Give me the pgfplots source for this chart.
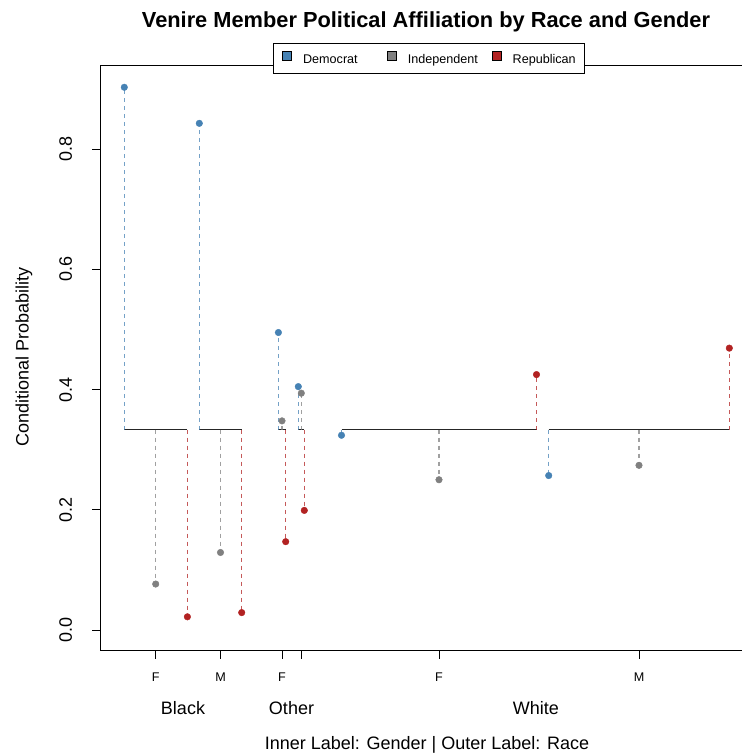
\documentclass[border=0pt]{standalone}
\usepackage{fontspec}
\setmainfont{Liberation Sans}[Ligatures=NoCommon]
\usepackage{pgfplots}
\pgfplotsset{compat=1.18}
\definecolor{dem}{HTML}{4682B4}
\definecolor{ind}{HTML}{808080}
\definecolor{rep}{HTML}{B22222}
\pgfplotsset{
  stem/.style={#1, opacity=0.75, line width=1.2pt, dash pattern=on 4pt off 4pt, forget plot},
}
\begin{document}
\begin{tikzpicture}[x=1pt,y=1pt]
\useasboundingbox (0,0) rectangle (742,753);
\begin{axis}[
  at={(100pt,102pt)}, anchor=south west,
  scale only axis, width=642pt, height=585pt,
  xmin=100, xmax=742, ymin=-0.0349, ymax=0.9384,
  axis x line*=bottom, axis y line*=left,
  axis line style={black, line width=1pt},
  clip=false,
  tick align=outside, major tick length=8pt,
  tick style={black, line width=0.9pt},
  xtick={155.7,220.5,282.0,301.3,439.0,639.0},
  xticklabels={F,M,F,,F,M},
  xticklabel style={font=\fontsize{12.6}{14}\selectfont, anchor=base, inner sep=0pt, yshift=-22.5pt},
  ytick={0,0.2,0.4,0.6,0.8},
  yticklabel style={font=\fontsize{18}{21}\selectfont, xshift=-20pt, rotate=90, anchor=base, inner sep=0pt,
    /pgf/number format/.cd, fixed, fixed zerofill, precision=1, assume math mode=true},
  legend columns=3,
  legend style={draw=black, line width=0.9pt, fill=white, inner xsep=9pt, inner ysep=8pt,
    at={(rel axis cs:0.5125,1.0128)}, anchor=center,
    font=\fontsize{12.6}{14}\selectfont,
    nodes={inner sep=0pt, text height=9pt, text depth=2.7pt},
    /tikz/every odd column/.append style={column sep=11pt},
    /tikz/every even column/.append style={column sep=14pt}},
  legend cell align=left,
]
% frame top line
\draw[black, line width=1pt] (rel axis cs:0,1) -- (rel axis cs:1,1);
% reference line segments at 1/3
\addplot[black!85, line width=1.2pt, unbounded coords=jump, forget plot] coordinates {
 (124.3,0.3333) (187.4,0.3333) (190,nan)
 (199.3,0.3333) (241.7,0.3333) (245,nan)
 (278.4,0.3333) (285.7,0.3333) (290,nan)
 (298.3,0.3333) (304.3,0.3333) (320,nan)
 (341.5,0.3333) (536.5,0.3333) (540,nan)
 (548.7,0.3333) (729.3,0.3333)
};
% Democrat stems
\addplot[stem=dem] coordinates {(124.3,0.3333) (124.3,0.903)};
\addplot[stem=dem] coordinates {(199.3,0.3333) (199.3,0.843)};
\addplot[stem=dem] coordinates {(278.4,0.3333) (278.4,0.495)};
\addplot[stem=dem] coordinates {(298.3,0.3333) (298.3,0.405)};
\addplot[stem=dem] coordinates {(341.5,0.3333) (341.5,0.324)};
\addplot[stem=dem] coordinates {(548.7,0.3333) (548.7,0.257)};
% Independent stems
\addplot[stem=ind] coordinates {(155.7,0.3333) (155.7,0.0765)};
\addplot[stem=ind] coordinates {(220.5,0.3333) (220.5,0.129)};
\addplot[stem=ind] coordinates {(282.0,0.3333) (282.0,0.348)};
\addplot[stem=ind] coordinates {(301.3,0.3333) (301.3,0.394)};
\addplot[stem=ind] coordinates {(439.0,0.3333) (439.0,0.250)};
\addplot[stem=ind] coordinates {(639.0,0.3333) (639.0,0.274)};
% Republican stems
\addplot[stem=rep] coordinates {(187.4,0.3333) (187.4,0.022)};
\addplot[stem=rep] coordinates {(241.7,0.3333) (241.7,0.029)};
\addplot[stem=rep] coordinates {(285.7,0.3333) (285.7,0.147)};
\addplot[stem=rep] coordinates {(304.3,0.3333) (304.3,0.199)};
\addplot[stem=rep] coordinates {(536.5,0.3333) (536.5,0.425)};
\addplot[stem=rep] coordinates {(729.3,0.3333) (729.3,0.469)};
% points
\addplot[only marks, mark=*, mark size=3.3pt, color=dem, mark options={solid},
  legend image code/.code={\draw[fill=dem, draw=black, line width=0.8pt] (0pt,-0.5pt) rectangle (9pt,8.5pt);}]
 coordinates {(124.3,0.903) (199.3,0.843) (278.4,0.495) (298.3,0.405) (341.5,0.324) (548.7,0.257)};
\addlegendentry{\makebox[70pt][l]{Democrat}}
\addplot[only marks, mark=*, mark size=3.3pt, color=ind, mark options={solid},
  legend image code/.code={\draw[fill=ind, draw=black, line width=0.8pt] (0pt,-0.5pt) rectangle (9pt,8.5pt);}]
 coordinates {(155.7,0.0765) (220.5,0.129) (282.0,0.348) (301.3,0.394) (439.0,0.250) (639.0,0.274)};
\addlegendentry{\makebox[70pt][l]{Independent}}
\addplot[only marks, mark=*, mark size=3.3pt, color=rep, mark options={solid},
  legend image code/.code={\draw[fill=rep, draw=black, line width=0.8pt] (0pt,-0.5pt) rectangle (9pt,8.5pt);}]
 coordinates {(187.4,0.022) (241.7,0.029) (285.7,0.147) (304.3,0.199) (536.5,0.425) (729.3,0.469)};
\addlegendentry{\makebox[63pt][l]{Republican}}
\end{axis}
\node[anchor=base, font=\bfseries\fontsize{21.8}{25}\selectfont] at (426,725) {Venire Member Political Affiliation by Race and Gender};
\node[anchor=base, font=\fontsize{18}{21}\selectfont] at (183,38.5) {Black};
\node[anchor=base, font=\fontsize{18}{21}\selectfont] at (291.5,38.5) {Other};
\node[anchor=base, font=\fontsize{18}{21}\selectfont] at (536,38.5) {White};
\node[anchor=base, font=\fontsize{18}{21}\selectfont] at (427,3) {Inner Label: Gender | Outer Label: Race};
\node[anchor=base, rotate=90, font=\fontsize{18}{21}\selectfont] at (28.5,396) {Conditional Probability};
\end{tikzpicture}
\end{document}
